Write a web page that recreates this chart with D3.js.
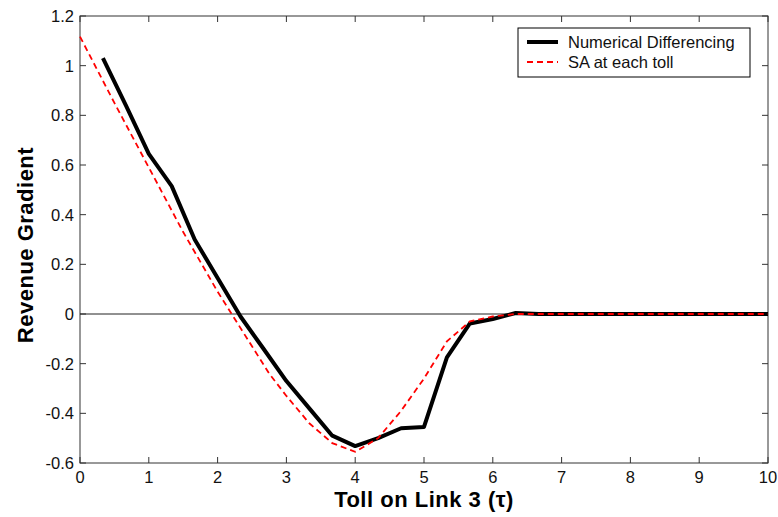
<!DOCTYPE html>
<html>
<head>
<meta charset="utf-8">
<script src="https://cdn.jsdelivr.net/npm/d3@7"></script>
<style>
    body { margin: 0; background: #fff; }
    svg { display: block; font-family: "Liberation Sans", Arial, sans-serif; }
    .tick-label { font-size: 16.5px; fill: #111; }
    .axis-title { font-size: 22px; font-weight: bold; fill: #000; letter-spacing: 0.5px; }
    .legend-text { font-size: 16.5px; fill: #111; }
</style>
</head>
<body>
<svg id="chart"></svg>
<script>
// toll values (x) and gradients for each series
const numTolls = [0.333, 0.667, 1.0, 1.333, 1.667, 2.0, 2.333, 2.667, 3.0, 3.333, 3.667, 4.0,
    4.333, 4.667, 5.0, 5.333, 5.667, 6.0, 6.333, 6.667, 7.0, 8.0, 9.0, 10.0];
const numGradient = [1.03, 0.84, 0.645, 0.515, 0.30, 0.145, -0.01, -0.14, -0.27, -0.38, -0.49, -0.532,
    -0.50, -0.46, -0.455, -0.175, -0.038, -0.02, 0.004, 0, 0, 0, 0, 0];

const saTolls = [0, 0.5, 1.0, 1.5, 2.0, 2.5, 2.75, 3.0, 3.333, 3.667, 4.0, 4.333, 4.667,
    5.0, 5.333, 5.667, 6.0, 6.333, 7.0, 8.0, 9.0, 10.0];
const saGradient = [1.117, 0.85, 0.59, 0.33, 0.09, -0.13, -0.24, -0.33, -0.44, -0.52, -0.555, -0.50, -0.39,
    -0.26, -0.11, -0.03, -0.01, 0, 0, 0, 0, 0];

const xTicks = [0, 1, 2, 3, 4, 5, 6, 7, 8, 9, 10];
const yTicks = [-0.6, -0.4, -0.2, 0, 0.2, 0.4, 0.6, 0.8, 1, 1.2];
const legendLabels = ['Numerical Differencing', 'SA at each toll'];

const width = 778, height = 517;
const margin = {top: 16, left: 80, right: 10, bottom: 54};
const w = width - margin.left - margin.right;
const h = height - margin.top - margin.bottom;

const svg = d3.select('#chart')
    .attr('width', width)
    .attr('height', height);

const g = svg.append('g')
    .attr('transform', 'translate(' + margin.left + ',' + margin.top + ')');

const xScale = d3.scaleLinear().domain([0, 10]).range([0, w]);
const yScale = d3.scaleLinear().domain([-0.6, 1.2]).range([h, 0]);

const tickLen = 6;
const axisColor = '#333';

// box frame
g.append('rect')
    .attr('width', w).attr('height', h)
    .attr('fill', 'none')
    .attr('stroke', axisColor)
    .attr('stroke-width', 1);

// inward ticks on all sides
g.selectAll('.xtick-b').data(xTicks).enter().append('line')
    .attr('x1', d => xScale(d)).attr('x2', d => xScale(d))
    .attr('y1', h).attr('y2', h - tickLen)
    .attr('stroke', axisColor);
g.selectAll('.xtick-t').data(xTicks).enter().append('line')
    .attr('x1', d => xScale(d)).attr('x2', d => xScale(d))
    .attr('y1', 0).attr('y2', tickLen)
    .attr('stroke', axisColor);
g.selectAll('.ytick-l').data(yTicks).enter().append('line')
    .attr('x1', 0).attr('x2', tickLen)
    .attr('y1', d => yScale(d)).attr('y2', d => yScale(d))
    .attr('stroke', axisColor);
g.selectAll('.ytick-r').data(yTicks).enter().append('line')
    .attr('x1', w).attr('x2', w - tickLen)
    .attr('y1', d => yScale(d)).attr('y2', d => yScale(d))
    .attr('stroke', axisColor);

// tick labels (plain hyphen for negatives, like the original)
g.selectAll('.xlabel').data(xTicks).enter().append('text')
    .attr('class', 'tick-label')
    .attr('x', d => xScale(d))
    .attr('y', h + 20)
    .attr('text-anchor', 'middle')
    .text(d => String(d));
g.selectAll('.ylabel').data(yTicks).enter().append('text')
    .attr('class', 'tick-label')
    .attr('x', -6)
    .attr('y', d => yScale(d) + 6)
    .attr('text-anchor', 'end')
    .text(d => String(+d.toFixed(1)));

// zero line
g.append('line')
    .attr('x1', xScale(0)).attr('x2', xScale(10))
    .attr('y1', yScale(0)).attr('y2', yScale(0))
    .attr('stroke', '#222')
    .attr('stroke-width', 1);

const line = d3.line()
    .x(d => xScale(d[0]))
    .y(d => yScale(d[1]));

g.append('path')
    .datum(d3.zip(numTolls, numGradient))
    .attr('d', line)
    .attr('fill', 'none')
    .attr('stroke', '#000')
    .attr('stroke-width', 4)
    .attr('stroke-linejoin', 'round');

g.append('path')
    .datum(d3.zip(saTolls, saGradient))
    .attr('d', line)
    .attr('fill', 'none')
    .attr('stroke', '#ff0000')
    .attr('stroke-width', 1.8)
    .attr('stroke-dasharray', '6,4');

// axis titles
svg.append('text')
    .attr('class', 'axis-title')
    .attr('x', 424)
    .attr('y', 507)
    .attr('text-anchor', 'middle')
    .text('Toll on Link 3 (τ)');

svg.append('text')
    .attr('class', 'axis-title')
    .attr('transform', 'translate(33,245) rotate(-90)')
    .attr('text-anchor', 'middle')
    .text('Revenue Gradient');

// legend
const legend = svg.append('g')
    .attr('transform', 'translate(518,28)');
legend.append('rect')
    .attr('width', 232).attr('height', 49)
    .attr('fill', '#fff')
    .attr('stroke', '#000')
    .attr('stroke-width', 1);

const legendStyles = [
    {stroke: '#000', width: 4, dash: null},
    {stroke: '#ff0000', width: 1.8, dash: '6,4'},
];

legendLabels.forEach((label, i) => {
    const y = 14 + i * 20;
    legend.append('line')
        .attr('x1', 9).attr('x2', 40)
        .attr('y1', y).attr('y2', y)
        .attr('stroke', legendStyles[i].stroke)
        .attr('stroke-width', legendStyles[i].width)
        .attr('stroke-dasharray', legendStyles[i].dash);
    legend.append('text')
        .attr('class', 'legend-text')
        .attr('x', 50)
        .attr('y', y + 6)
        .text(label);
});
</script>
</body>
</html>
